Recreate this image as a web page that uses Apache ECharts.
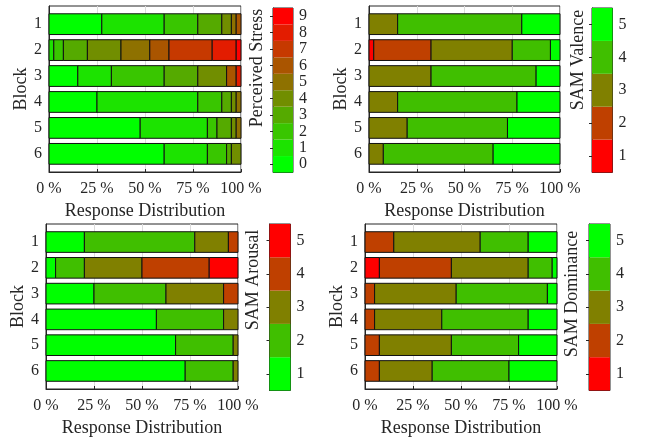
<!DOCTYPE html>
<html><head><meta charset="utf-8">
<script src="https://cdn.jsdelivr.net/npm/echarts@6/dist/echarts.min.js"></script>
<style>html,body{margin:0;padding:0;background:#fff}#c{width:652px;height:438px}</style>
</head><body><div id="c"></div>
<script>
// ---- data ----
const blocks = ['1', '2', '3', '4', '5', '6'];
const blockPos = [1, 2, 3, 4, 5, 6];
const xTicks = [0, 25, 50, 75, 100];
const stressLevels = ['0', '1', '2', '3', '4', '5', '6', '7', '8', '9'];
const samLevels = ['1', '2', '3', '4', '5'];

// percent of responses per level (columns) for each block (rows)
const stressPct = [
  [27.5, 32.5, 17.5, 12.5, 5, 2.5, 2.5, 0, 0, 0],
  [0, 2.5, 5, 12.5, 17.5, 15, 10, 22.5, 12.5, 2.5],
  [15, 17.5, 27.5, 17.5, 15, 0, 5, 0, 2.5, 0],
  [25, 52.5, 12.5, 5, 2.5, 2.5, 0, 0, 0, 0],
  [47.5, 35, 5, 7.5, 2.5, 2.5, 0, 0, 0, 0],
  [60, 22.5, 10, 2.5, 5, 0, 0, 0, 0, 0]
];
const valencePct = [
  [0, 0, 15, 65, 20],
  [2.5, 30, 42.5, 20, 5],
  [0, 0, 32.5, 55, 12.5],
  [0, 0, 15, 62.5, 22.5],
  [0, 0, 20, 52.5, 27.5],
  [0, 0, 7.5, 57.5, 35]
];
const arousalPct = [
  [20, 57.5, 17.5, 5, 0],
  [5, 15, 30, 35, 15],
  [25, 37.5, 30, 7.5, 0],
  [57.5, 35, 7.5, 0, 0],
  [67.5, 30, 2.5, 0, 0],
  [72.5, 25, 2.5, 0, 0]
];
const dominancePct = [
  [0, 15, 45, 25, 15],
  [7.5, 37.5, 40, 12.5, 2.5],
  [0, 5, 42.5, 47.5, 5],
  [0, 5, 35, 45, 15],
  [0, 7.5, 37.5, 35, 20],
  [0, 7.5, 27.5, 40, 25]
];

// ---- styles ----
const stressColors = ['#00ff00', '#1ce300', '#39c600', '#55aa00', '#718e00', '#8e7100', '#aa5500', '#c63900', '#e31c00', '#ff0000'];
const redToGreen = ['#ff0000', '#bf4000', '#808000', '#40bf00', '#00ff00'];
const greenToRed = ['#00ff00', '#40bf00', '#808000', '#bf4000', '#ff0000'];
const FONT = '"Liberation Serif", "Times New Roman", serif';
const TXT = '#262626';

const panels = [
  { pct: stressPct, levels: stressLevels, colors: stressColors, name: 'Perceived Stress',
    grid: { left: 49, top: 6, width: 192, height: 166 },
    cb: { left: 273, top: 8, width: 20, height: 164.5 }, namePos: [257, 68] },
  { pct: valencePct, levels: samLevels, colors: redToGreen, name: 'SAM Valence',
    grid: { left: 369, top: 6, width: 191, height: 166 },
    cb: { left: 592, top: 8, width: 20.5, height: 164.5 }, namePos: [578, 60] },
  { pct: arousalPct, levels: samLevels, colors: greenToRed, name: 'SAM Arousal',
    grid: { left: 46, top: 224, width: 192, height: 166 },
    cb: { left: 269.5, top: 224, width: 21, height: 166.5 }, namePos: [253, 280] },
  { pct: dominancePct, levels: samLevels, colors: redToGreen, name: 'SAM Dominance',
    grid: { left: 365, top: 224, width: 192, height: 166 },
    cb: { left: 589, top: 224, width: 21, height: 166.5 }, namePos: [572, 294] }
];

const grids = [], xAxes = [], yAxes = [], series = [], graphics = [];

panels.forEach((p, i) => {
  const gi = 2 * i, ci = 2 * i + 1;
  grids.push(Object.assign({ show: true, borderColor: TXT, borderWidth: 1, backgroundColor: '#fff' }, p.grid));
  grids.push(Object.assign({ show: true, borderColor: TXT, borderWidth: 1 }, p.cb));

  xAxes.push({
    gridIndex: gi, type: 'value', min: xTicks[0], max: xTicks[xTicks.length - 1], interval: 25,
    axisLine: { show: true, lineStyle: { color: TXT } },
    axisTick: { show: true, inside: true, length: 3, lineStyle: { color: TXT } },
    axisLabel: { formatter: v => v + ' %', fontSize: 16, fontFamily: FONT, color: TXT, margin: 9 },
    splitLine: { show: true, lineStyle: { color: '#dcdcdc', width: 1 } },
    name: 'Response Distribution', nameLocation: 'middle', nameGap: 30,
    nameTextStyle: { fontSize: 18, fontFamily: FONT, color: TXT }
  });
  yAxes.push({
    gridIndex: gi, type: 'value', inverse: true, min: 0.3, max: 6.7,
    axisLine: { show: true, lineStyle: { color: TXT } },
    axisTick: { show: true, inside: true, length: 3, customValues: blockPos, lineStyle: { color: TXT } },
    axisLabel: { customValues: blockPos, formatter: v => blocks[Math.round(v) - 1], fontSize: 16, fontFamily: FONT, color: TXT, margin: 7 },
    splitLine: { show: false },
    name: 'Block', nameLocation: 'middle', nameGap: 16, nameRotate: 90,
    nameTextStyle: { fontSize: 18, fontFamily: FONT, color: TXT }
  });
  xAxes.push({ gridIndex: ci, type: 'value', min: 0, max: 1, show: false });
  yAxes.push({
    gridIndex: ci, type: 'category', data: p.levels, position: 'right',
    axisLine: { show: true, lineStyle: { color: TXT } },
    axisTick: { show: true, inside: true, alignWithLabel: true, interval: 0, length: 3, lineStyle: { color: TXT } },
    axisLabel: { interval: 0, fontSize: 16, fontFamily: FONT, color: TXT, margin: 6 },
    splitLine: { show: false }
  });

  const segs = [];
  p.pct.forEach((row, b) => {
    let start = 0;
    row.forEach((v, k) => {
      if (v > 0) { segs.push([start, start + v, blockPos[b], k]); start += v; }
    });
  });
  const colors = p.colors;
  series.push({
    type: 'custom', xAxisIndex: gi, yAxisIndex: gi, silent: true,
    encode: { x: [0, 1], y: 2 },
    data: segs,
    renderItem: (params, api) => {
      const s = api.value(0), e = api.value(1), b = api.value(2), k = api.value(3);
      const p0 = api.coord([s, b]);
      const p1 = api.coord([e, b]);
      const h = Math.abs(api.size([0, 0.8])[1]);
      return {
        type: 'rect',
        shape: { x: p0[0], y: p0[1] - h / 2, width: p1[0] - p0[0], height: h },
        style: { fill: colors[k], stroke: '#111', lineWidth: 1 }
      };
    }
  });
  series.push({
    type: 'bar', xAxisIndex: ci, yAxisIndex: ci, silent: true,
    barWidth: '100%', barCategoryGap: 0,
    data: p.levels.map((l, k) => ({ value: 1, itemStyle: { color: colors[k] } }))
  });
  graphics.push({
    type: 'text', x: p.namePos[0], y: p.namePos[1], rotation: Math.PI / 2,
    style: { text: p.name, fontSize: 18, fontFamily: FONT, fill: TXT, align: 'center', verticalAlign: 'middle' }
  });
});

const chart = echarts.init(document.getElementById('c'), null, { renderer: 'canvas' });
chart.setOption({
  animation: false,
  backgroundColor: '#fff',
  grid: grids, xAxis: xAxes, yAxis: yAxes, series: series, graphic: graphics
});
</script>
</body></html>
